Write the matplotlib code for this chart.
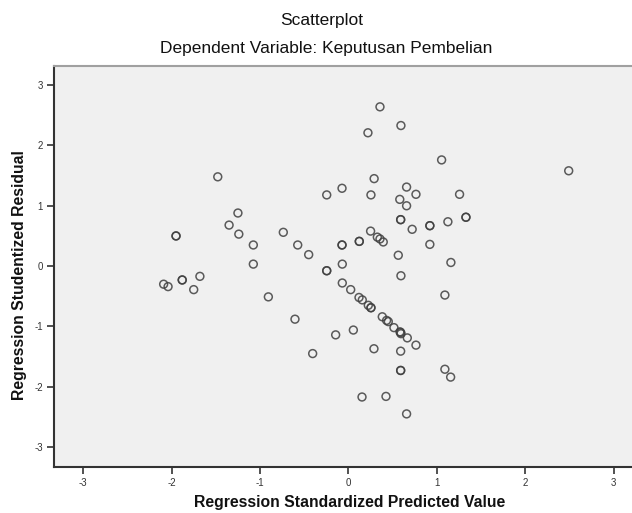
import matplotlib
matplotlib.use("Agg")
import matplotlib.pyplot as plt

plt.rcParams['font.family'] = ['Liberation Sans', 'DejaVu Sans']

# Regression standardized predicted value (x) and studentized residual (y)
pred = [-1.478, -1.25, -1.35, -1.24, -1.95, -1.95,
        -2.09, -2.04, -1.88, -1.88, -1.68, -1.75,
        0.356, 0.593, 0.22, 0.29, -0.073, -0.246, 0.254, 0.657, 0.763, 0.58, 0.657,
        0.59, 0.59, 0.72, 0.92, 0.92, 0.92, 0.563,
        -1.076, -0.737, -0.574, -0.45, -0.073, -0.073, 0.122, 0.122,
        0.25, 0.326, 0.356, 0.393,
        -1.076, -0.07, -0.246, -0.246, 0.593, -0.07, 0.025, -0.906,
        0.119, 0.156, 0.224, 0.254, 0.254, 0.382, 0.431, 0.45, 0.514, 0.582, 0.59, 0.593,
        0.665, 0.763, -0.605, 0.055, -0.145, 0.288, 0.59, -0.405, 0.59, 0.59,
        0.153, 0.424, 0.657,
        1.053, 2.49, 1.256, 1.124, 1.328, 1.328, 1.158, 1.09, 1.09, 1.155]
resid = [1.48, 0.88, 0.68, 0.53, 0.50, 0.50,
         -0.30, -0.34, -0.23, -0.23, -0.17, -0.39,
         2.64, 2.33, 2.21, 1.45, 1.29, 1.18, 1.18, 1.31, 1.19, 1.106, 1.0,
         0.77, 0.77, 0.61, 0.67, 0.67, 0.36, 0.18,
         0.35, 0.56, 0.35, 0.19, 0.35, 0.35, 0.41, 0.41,
         0.58, 0.48, 0.45, 0.40,
         0.033, 0.033, -0.077, -0.077, -0.16, -0.28, -0.39, -0.51,
         -0.52, -0.56, -0.65, -0.69, -0.69, -0.84, -0.90, -0.92, -1.02, -1.09, -1.10, -1.12,
         -1.19, -1.31, -0.88, -1.06, -1.14, -1.37, -1.41, -1.45, -1.73, -1.73,
         -2.17, -2.16, -2.45,
         1.76, 1.58, 1.19, 0.735, 0.81, 0.81, 0.06, -0.48, -1.71, -1.84]

ticks = [-3, -2, -1, 0, 1, 2, 3]
tick_labels = ['-3', '-2', '-1', '0', '1', '2', '3']

fig = plt.figure(figsize=(6.32, 5.13), dpi=100)
ax = fig.add_axes([0.0854, 0.0897, 0.932, 0.782])
ax.set_facecolor('#F0F0F0')
ax.scatter(pred, resid, s=32, facecolors='none', edgecolors='#404040',
           linewidths=1.1, alpha=0.85, zorder=3)

ax.set_xlim(-3.33, 3.33)
ax.set_ylim(-3.33, 3.32)
ax.set_xticks(ticks)
ax.set_xticklabels(tick_labels)
ax.set_yticks(ticks)
ax.set_yticklabels(tick_labels)
ax.tick_params(axis='both', direction='out', length=5, width=1.2, color='#333333',
               labelsize=7, labelcolor='#333333', pad=3)

for side in ['left', 'bottom']:
    ax.spines[side].set_color('#333333')
    ax.spines[side].set_linewidth(1.5)
ax.spines['top'].set_color('#A0A0A0')
ax.spines['top'].set_linewidth(1.5)
ax.spines['right'].set_visible(False)

ax.set_xlabel('Regression Standardized Predicted Value', fontsize=11.3,
              fontweight='bold', color='#111111')
ax.set_ylabel('Regression Studentized Residual', fontsize=11.3,
              fontweight='bold', color='#111111')
ax.xaxis.set_label_coords((349.5 - 54) / (643 - 54), -0.069)
ax.yaxis.set_label_coords(-0.046, 0.478)

fig.text(322 / 632, 1 - 25 / 513, 'Scatterplot', ha='center', va='baseline',
         fontsize=12.5, color='#111111')
fig.text(326 / 632, 1 - 53 / 513, 'Dependent Variable: Keputusan Pembelian',
         ha='center', va='baseline', fontsize=12.5, color='#111111')

fig.savefig('out.png', dpi=100)
